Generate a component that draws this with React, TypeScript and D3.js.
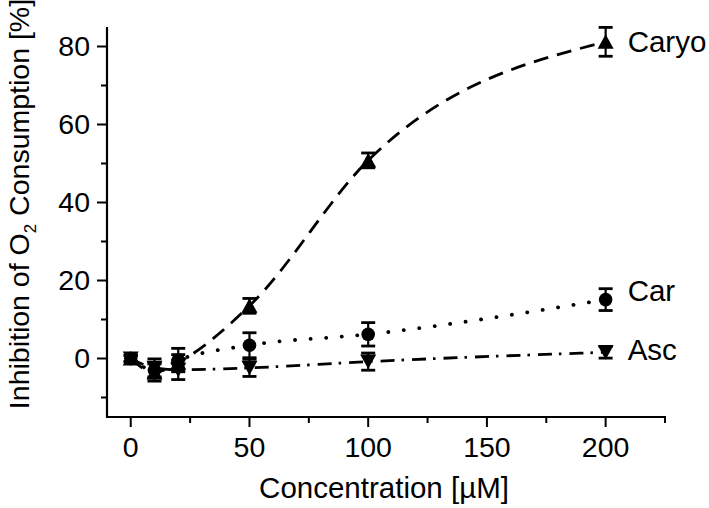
import React from "react";
import * as d3 from "d3";

const concentrations = [0, 10, 20, 50, 100, 200];
const caryoMean = [0, -3.6, -1.0, 13.5, 50.8, 81.2];
const caryoErr = [0.8, 2.2, 2.0, 1.9, 1.9, 3.7];
const carMean = [0, -3.0, -0.4, 3.4, 6.2, 15.1];
const carErr = [0.8, 2.0, 3.0, 3.2, 3.0, 2.8];
const ascMean = [0, -2.4, -2.9, -2.4, -0.8, 1.6];
const ascErr = [0.8, 2.3, 2.5, 2.2, 2.2, 1.5];
const seriesNames = ["Caryo", "Car", "Asc"];
const seriesLabelValues = [81.2, 17.4, 2.2];
const xMajorTicks = [0, 50, 100, 150, 200];
const xMinorTicks = [25, 75, 125, 175, 225];
const yMajorTicks = [0, 20, 40, 60, 80];
const yMinorTicks = [-10, 10, 30, 50, 70];

const W = 709;
const H = 508;
const FONT = "'Liberation Sans', Arial, Helvetica, sans-serif";

export default function App() {
  const x = d3.scaleLinear().domain([-10, 225]).range([107, 665]);
  const y = d3.scaleLinear().domain([-15, 85]).range([417, 27]);

  const series = [
    { name: seriesNames[0], mean: caryoMean, err: caryoErr, marker: "up", dash: "15 9", cap: "butt", width: 2.8, labelV: seriesLabelValues[0] },
    { name: seriesNames[1], mean: carMean, err: carErr, marker: "circle", dash: "0.1 15.5", cap: "round", width: 3.8, labelV: seriesLabelValues[1] },
    { name: seriesNames[2], mean: ascMean, err: ascErr, marker: "down", dash: "14 7 2.5 8", cap: "butt", width: 2.8, labelV: seriesLabelValues[2] },
  ];

  const line = d3
    .line<[number, number]>()
    .x((d) => x(d[0]))
    .y((d) => y(d[1]))
    .curve(d3.curveMonotoneX);

  const marker = (kind: string, cx: number, cy: number, key: string) => {
    if (kind === "circle") return <circle key={key} cx={cx} cy={cy} r={6.8} fill="#000" />;
    const p =
      kind === "up"
        ? `M${cx - 8},${cy + 7}L${cx + 8},${cy + 7}L${cx},${cy - 7.5}Z`
        : `M${cx - 8},${cy - 7}L${cx + 8},${cy - 7}L${cx},${cy + 7.5}Z`;
    return <path key={key} d={p} fill="#000" />;
  };

  return (
    <svg width={W} height={H} style={{ position: "absolute", left: 0, top: 0, background: "#fff" }} fontFamily={FONT}>
      <rect x={0} y={0} width={W} height={H} fill="#fff" />
      {series.map((s) => (
        <path
          key={"l" + s.name}
          d={line(concentrations.map((c, i) => [c, s.mean[i]] as [number, number])) || ""}
          fill="none"
          stroke="#000"
          strokeWidth={s.width}
          strokeDasharray={s.dash}
          strokeLinecap={s.cap as any}
        />
      ))}
      {series.map((s) =>
        concentrations.map((c, i) => {
          const cx = x(c);
          const t = y(s.mean[i] + s.err[i]);
          const b = y(s.mean[i] - s.err[i]);
          return (
            <g key={"e" + s.name + i} stroke="#000">
              <line x1={cx} x2={cx} y1={t} y2={b} strokeWidth={2.2} />
              <line x1={cx - 7} x2={cx + 7} y1={t} y2={t} strokeWidth={2.8} />
              <line x1={cx - 7} x2={cx + 7} y1={b} y2={b} strokeWidth={2.8} />
            </g>
          );
        })
      )}
      {series.map((s) => concentrations.map((c, i) => marker(s.marker, x(c), y(s.mean[i]), "m" + s.name + i)))}
      {series.map((s) => (
        <text key={"t" + s.name} x={x(200) + 22} y={y(s.labelV)} dy="0.35em" fontSize={29.5} fill="#000">
          {s.name}
        </text>
      ))}
      <line x1={x(-10)} x2={x(-10)} y1={y(85)} y2={y(-15) + 1} stroke="#000" strokeWidth={2.2} />
      <line x1={x(-10) - 1} x2={x(225) + 1} y1={y(-15)} y2={y(-15)} stroke="#000" strokeWidth={2.2} />
      {yMajorTicks.map((v) => (
        <g key={"ym" + v}>
          <line x1={x(-10) - 10} x2={x(-10)} y1={y(v)} y2={y(v)} stroke="#000" strokeWidth={2} />
          <text x={x(-10) - 17} y={y(v)} dy="0.35em" textAnchor="end" fontSize={28.5} fill="#000">
            {v}
          </text>
        </g>
      ))}
      {yMinorTicks.map((v) => (
        <line key={"yn" + v} x1={x(-10) - 6} x2={x(-10)} y1={y(v)} y2={y(v)} stroke="#000" strokeWidth={2} />
      ))}
      {xMajorTicks.map((v) => (
        <g key={"xm" + v}>
          <line x1={x(v)} x2={x(v)} y1={y(-15)} y2={y(-15) + 10} stroke="#000" strokeWidth={2} />
          <text x={x(v)} y={457} textAnchor="middle" fontSize={28.5} fill="#000">
            {v}
          </text>
        </g>
      ))}
      {xMinorTicks.map((v) => (
        <line key={"xn" + v} x1={x(v)} x2={x(v)} y1={y(-15)} y2={y(-15) + 6} stroke="#000" strokeWidth={2} />
      ))}
      <text x={384} y={498} textAnchor="middle" fontSize={29.5} fill="#000">
        Concentration [µM]
      </text>
      <text transform="translate(29,204) rotate(-90)" textAnchor="middle" fontSize={28.5} fill="#000">
        Inhibition of O<tspan fontSize={17} dy={7}>2</tspan>
        <tspan dy={-7}> Consumption [%]</tspan>
      </text>
    </svg>
  );
}
